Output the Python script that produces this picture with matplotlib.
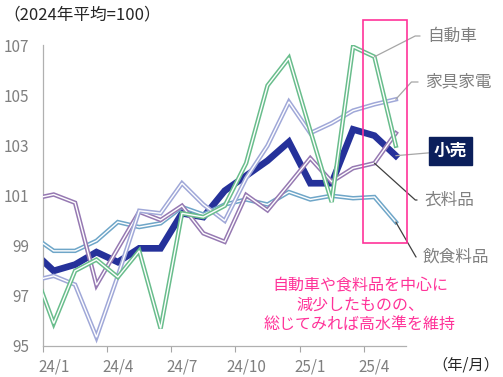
import numpy as np
import matplotlib
matplotlib.use('Agg')
from matplotlib import pyplot as plt
from matplotlib.patches import Rectangle

plt.rcParams['font.family'] = ['Noto Sans CJK JP', 'DejaVu Sans']

# 月次指数 (2024年平均=100)、先頭の23/12は軸の外側
months = ['23/12', '24/1', '24/2', '24/3', '24/4', '24/5', '24/6', '24/7', '24/8', '24/9',
          '24/10', '24/11', '24/12', '25/1', '25/2', '25/3', '25/4', '25/5']
retail = [98.8, 98.0, 98.25, 98.75, 98.35, 98.9, 98.9, 100.3, 100.15, 101.2,
          101.8, 102.4, 103.15, 101.5, 101.5, 103.65, 103.4, 102.6]
auto = [98.2, 95.9, 98.0, 98.45, 97.75, 98.8, 95.7, 100.3, 100.15, 100.6,
        102.3, 105.4, 106.5, 103.6, 100.75, 106.95, 106.55, 103.0]
furniture = [97.6, 97.8, 97.45, 95.35, 97.8, 100.4, 100.3, 101.5, 100.65, 100.0,
             101.7, 103.0, 104.75, 103.5, 103.9, 104.4, 104.65, 104.85]
clothing = [100.87, 101.05, 100.72, 97.43, 98.9, 100.36, 100.03, 100.6, 99.5, 99.16,
            101.03, 100.42, 101.45, 102.5, 101.56, 102.1, 102.3, 103.5]
food = [99.4, 98.8, 98.8, 99.2, 99.95, 99.75, 99.9, 100.55, 100.25, 100.65,
        100.85, 100.65, 101.15, 100.85, 101.0, 100.9, 100.95, 99.95]

tick_labels = ['24/1', '24/4', '24/7', '24/10', '25/1', '25/4']

W, H = 503, 377
def fp(x, y_top):
    return x / W, 1 - y_top / H

fig = plt.figure(figsize=(5.03, 3.77), dpi=100)
ax = fig.add_axes([43 / W, 1 - 346 / H, (406.5 - 43) / W, (346 - 45.5) / H])

x = np.arange(len(months))

ax.plot(x, retail, color='#25319a', lw=4.8, solid_joinstyle='miter', zorder=2)
for vals, c in [(food, '#6fa6c8'), (clothing, '#9679b2'),
                (furniture, '#a0a8d8'), (auto, '#69bd8c')]:
    ax.plot(x, vals, color=c, lw=3.2, zorder=3, solid_joinstyle='miter')
    ax.plot(x, vals, color='white', lw=1.0, zorder=3, solid_joinstyle='miter')

ax.set_xlim(0.5, len(months) - 0.5)
ax.set_ylim(95, 107)
ax.set_yticks(np.arange(95, 108, 2))
ax.set_xticks([months.index(m) for m in tick_labels])
ax.set_xticklabels(tick_labels)
ax.set_xticks([months.index(m) - 0.5 for m in tick_labels], minor=True)
ax.tick_params(axis='both', which='major', length=0, labelsize=11, colors='#7f7f7f')
ax.tick_params(axis='y', pad=10)
ax.tick_params(axis='x', pad=9)
ax.tick_params(axis='x', which='minor', length=4, width=0.8, color='#a6a6a6')
for s in ['top', 'right']:
    ax.spines[s].set_visible(False)
for s in ['left', 'bottom']:
    ax.spines[s].set_color('#b0b0b0')
    ax.spines[s].set_linewidth(0.9)

# 直近2か月の枠
ax.add_patch(Rectangle((15.45, 99.1), 2.05, 8.9, fill=False, ec='#ff3399',
                       lw=1.2, clip_on=False, zorder=5))

# 系列ラベル
def label(text, i, vals, pos, angle, color='#808080', lc='#a6a6a6', **kw):
    ax.annotate(text, xy=(i, vals[i]), xytext=pos, textcoords='figure fraction',
                ha='left', va='center', fontsize=12, color=color,
                arrowprops=dict(arrowstyle='-', color=lc, lw=0.9, relpos=(0, 0.5),
                                shrinkA=3, shrinkB=0,
                                connectionstyle='angle,angleA=0,angleB=%d,rad=0' % angle),
                annotation_clip=False, **kw)

last = len(months) - 1
label('自動車', last - 1, auto, fp(427, 36), 27)
label('家具家電', last, furniture, fp(425, 82), 48)
ax.annotate('小売', xy=(last, retail[last]), xytext=fp(434, 151),
            textcoords='figure fraction', ha='left', va='center', fontsize=12,
            color='white', fontweight='bold',
            bbox=dict(boxstyle='square,pad=0.3', fc='#0b1f5b', ec='#0b1f5b'),
            arrowprops=dict(arrowstyle='-', color='#a6a6a6', lw=0.9, shrinkA=0, shrinkB=0),
            annotation_clip=False)
label('衣料品', last - 1, clothing, fp(424, 200), -42, lc='#404040')
label('飲食料品', last, food, fp(423, 257), -60, lc='#404040')

fig.text(*fp(3, 15), '（2024年平均=100）', fontsize=12, color='#262626', va='center')
fig.text(*fp(499, 365), '（年/月）', fontsize=11, color='#262626', va='center', ha='right')
fig.text(*fp(360, 305), '自動車や食料品を中心に\n減少したものの、\n総じてみれば高水準を維持',
         fontsize=11.5, color='#ff3399', ha='center', va='center', linespacing=1.2)

fig.savefig('out.png', dpi=100)
